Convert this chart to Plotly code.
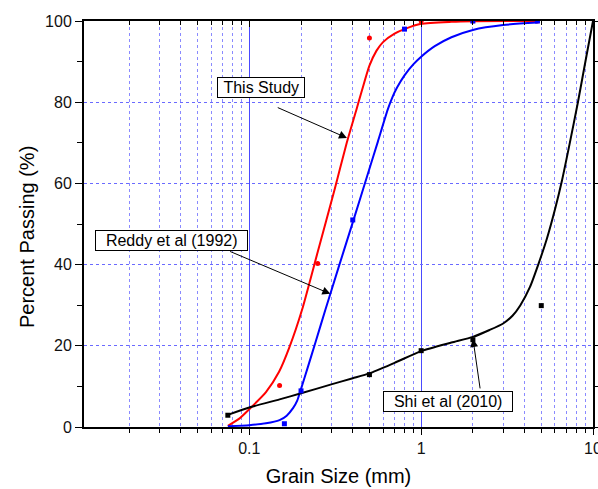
import plotly.graph_objects as go
import math

# ---------------- data ----------------
# measured points (markers)
study_x = [0.15, 0.25, 0.5, 1.0, 2.0, 4.75]
study_y = [10.2, 40.3, 95.8, 100, 100, 100]
reddy_x = [0.16, 0.2, 0.4, 0.8, 2.0, 4.75]
reddy_y = [0.8, 8.9, 51.0, 98.0, 100, 100]
shi_x = [0.075, 0.5, 1.0, 2.0, 5.0]
shi_y = [2.9, 12.9, 18.8, 21.5, 29.9]

# fitted curves
study_cx = [0.075, 0.087, 0.1, 0.125, 0.149, 0.171, 0.2025, 0.25, 0.3136, 0.37, 0.4195, 0.453,
            0.5, 0.55, 0.6, 0.7, 0.8, 1.0, 1.5, 2.0, 4.75]
study_cy = [0.3, 2.0, 4.4, 8.6, 13.6, 19.6, 28.8, 43.1, 58.5, 70.2, 78.1, 83.0,
            89.0, 92.7, 94.8, 96.9, 98.0, 99.3, 99.8, 99.95, 100]
reddy_cx = [0.075, 0.1, 0.125, 0.15, 0.165, 0.18, 0.19, 0.2, 0.22, 0.242, 0.2768, 0.33, 0.4, 0.5,
            0.56, 0.638, 0.68, 0.724, 0.8, 0.9, 1.0, 1.2, 1.5, 2.0, 3.0, 4.75]
reddy_cy = [0.2, 0.45, 0.9, 1.7, 2.8, 4.7, 6.5, 9.4, 15.0, 20.7, 28.8, 39.2, 50.4, 63.6,
            70.3, 78.1, 81.2, 83.6, 86.6, 89.3, 91.2, 93.8, 96.0, 97.8, 99.0, 99.6]
shi_cx = [0.075, 0.1, 0.15, 0.2, 0.3, 0.4, 0.5, 0.7, 1.0, 1.5, 2.0, 2.5, 3.0, 3.4, 3.78, 4.3, 4.83,
          5.4, 6.0, 6.6, 7.3, 8.17, 9.17, 10.0]
shi_cy = [3.0, 4.8, 6.8, 8.3, 10.5, 12.0, 13.2, 15.8, 18.7, 20.8, 22.2, 23.9, 25.5, 27.4, 30.0, 34.5, 40.3,
          46.5, 53.5, 60.7, 69.6, 80.0, 91.5, 100]

x_tickvals = [0.1, 1, 10]
x_ticktext = ["0.1", "1", "10"]
y_tickvals = [0, 20, 40, 60, 80, 100]

labels = ["This Study", "Reddy et al (1992)", "Shi et al (2010)"]

# ---------------- figure ----------------
FONT = "Liberation Sans, Arial, sans-serif"
xr = [-1.962, 1.0]
minor_vals = [m * 10 ** e for e in (-2, -1, 0) for m in range(2, 10)]

fig = go.Figure()
for cx, cy, col in [(study_cx, study_cy, "#ff0000"), (reddy_cx, reddy_cy, "#0000ff"), (shi_cx, shi_cy, "#000000")]:
    fig.add_trace(go.Scatter(x=cx, y=cy, mode="lines", line=dict(color=col, width=2, shape="spline", smoothing=0.6),
                             showlegend=False, hoverinfo="skip"))
fig.add_trace(go.Scatter(x=study_x, y=study_y, mode="markers", marker=dict(color="#ff0000", size=5, symbol="circle"), showlegend=False))
fig.add_trace(go.Scatter(x=reddy_x, y=reddy_y, mode="markers", marker=dict(color="#0000ff", size=5, symbol="square"), showlegend=False))
fig.add_trace(go.Scatter(x=shi_x, y=shi_y, mode="markers", marker=dict(color="#000000", size=5, symbol="square"), showlegend=False))
# helper trace for the top axis (inward ticks)
fig.add_trace(go.Scatter(x=[1], y=[-50], xaxis="x2", mode="markers", marker=dict(opacity=0), showlegend=False, hoverinfo="skip"))

fig.update_layout(
    width=598, height=489,
    margin=dict(l=84, r=5, t=21, b=62, autoexpand=False),
    paper_bgcolor="white", plot_bgcolor="white",
    font=dict(family=FONT, color="#000000"),
    xaxis=dict(
        type="log", range=xr, tickmode="array", tickvals=x_tickvals, ticktext=x_ticktext,
        ticks="outside", ticklen=6, tickwidth=1, tickcolor="black", automargin=False,
        ticklabeloverflow="allow",
        showline=True, linecolor="black", linewidth=2, mirror=True,
        showgrid=True, gridcolor="#4a4aff", gridwidth=1,
        minor=dict(tickmode="array", tickvals=minor_vals, ticks="outside", ticklen=4, tickcolor="black",
                   showgrid=True, gridcolor="#8a8aff", griddash="dot", gridwidth=1),
        tickfont=dict(size=16, family=FONT, color="#111"),
        title=dict(text="Grain Size (mm)", font=dict(size=20, family=FONT), standoff=13),
        zeroline=False,
    ),
    xaxis2=dict(
        type="log", range=xr, overlaying="x", side="top", tickmode="array", tickvals=x_tickvals,
        ticks="inside", ticklen=6, tickcolor="black", showticklabels=False, showgrid=False, showline=False,
        automargin=False,
        minor=dict(tickmode="array", tickvals=minor_vals, ticks="inside", ticklen=4, tickcolor="black", showgrid=False),
        zeroline=False,
    ),
    yaxis=dict(
        range=[0, 100], tickmode="array", tickvals=y_tickvals, automargin=False,
        ticks="outside", ticklen=7, tickwidth=1, tickcolor="black",
        showline=True, linecolor="black", linewidth=2, mirror="ticks",
        showgrid=True, gridcolor="#6a6aff", griddash="dot", gridwidth=1,
        minor=dict(dtick=10, ticks="outside", ticklen=5, tickcolor="black", showgrid=False),
        tickfont=dict(size=16, family=FONT, color="#111"),
        zeroline=False,
    ),
)

# y-axis title (placed as text so it can sit where the reference has it)
fig.add_annotation(xref="paper", yref="paper",
                   x=(27 - 84) / (598 - 84 - 5), y=(489 - 62 - 237) / (489 - 21 - 62),
                   text="Percent Passing (%)", showarrow=False,
                   textangle=-90, font=dict(size=20, family=FONT, color="black"),
                   xanchor="center", yanchor="middle")

# label boxes
box_pos = [(-0.930, 83.5), (-1.4556, 45.9), (0.1568, 6.2)]
pads = ["\u00a0", "\u00a0\u00a0", "\u00a0\u00a0"]
for (bx, by), txt, p in zip(box_pos, labels, pads):
    fig.add_annotation(x=bx, y=by, xref="x", yref="y", text=p + txt + p, showarrow=False,
                       font=dict(size=16, family=FONT, color="black"), bgcolor="white",
                       bordercolor="black", borderwidth=1, borderpad=1, xanchor="center", yanchor="middle")

# arrows (tip in data coords, tail offset in px)
arrows = [(math.log10(0.370), 71.2, -70.7, -31), (math.log10(0.296), 32.8, -101.7, -43), (math.log10(2.003), 21.7, 7.3, 51)]
for tx, ty, ax, ay in arrows:
    fig.add_annotation(x=tx, y=ty, xref="x", yref="y", text="", showarrow=True, ax=ax, ay=ay,
                       axref="pixel", ayref="pixel", arrowhead=2, arrowsize=1.6, arrowwidth=1, arrowcolor="black")

fig.write_html("out.html")
